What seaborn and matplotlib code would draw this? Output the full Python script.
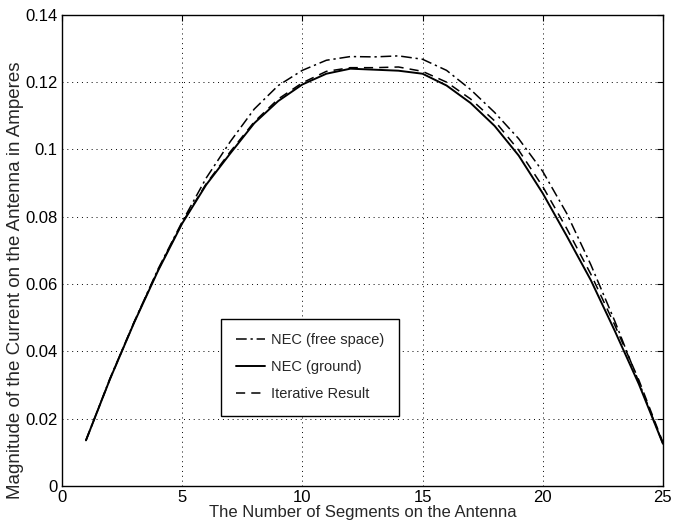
import numpy as np
import pandas as pd
import seaborn as sns
import matplotlib.pyplot as plt

# segment index along the antenna
segments = list(range(1, 26))

# current magnitude (A)
nec_free_space = [0.0136, 0.0320, 0.0487, 0.0645, 0.0785, 0.0915, 0.1023, 0.1120,
                  0.1190, 0.1235, 0.1265, 0.1276, 0.1275, 0.1278, 0.1268, 0.1235,
                  0.1178, 0.1110, 0.1032, 0.0935, 0.0810, 0.0658, 0.0490, 0.0309,
                  0.0126]
nec_ground = [0.0136, 0.0318, 0.0485, 0.0640, 0.0780, 0.0895, 0.0988, 0.1078,
              0.1144, 0.1193, 0.1225, 0.1240, 0.1237, 0.1234, 0.1225, 0.1190,
              0.1138, 0.1070, 0.0982, 0.0870, 0.0743, 0.0612, 0.0461, 0.0303,
              0.0126]
iterative = [0.0136, 0.0318, 0.0486, 0.0642, 0.0782, 0.0898, 0.0993, 0.1082,
             0.1150, 0.1198, 0.1232, 0.1243, 0.1243, 0.1245, 0.1232, 0.1200,
             0.1150, 0.1085, 0.0998, 0.0890, 0.0765, 0.0630, 0.0478, 0.0315,
             0.0130]

x_ticks = [0, 5, 10, 15, 20, 25]
y_ticks = [0, 0.02, 0.04, 0.06, 0.08, 0.1, 0.12, 0.14]
y_tick_labels = ['0', '0.02', '0.04', '0.06', '0.08', '0.1', '0.12', '0.14']

sns.set_style("white")
plt.rcParams['font.family'] = ['Liberation Sans', 'DejaVu Sans']

fig = plt.figure(figsize=(6.73, 5.29), dpi=100)
ax = fig.add_axes([0.092, 0.081, 0.893, 0.891])

sns.lineplot(x=segments, y=nec_free_space, ax=ax, color='black', linewidth=1.1,
             linestyle=(0, (7, 2.5, 1.5, 2.5)), label='NEC (free space)')
sns.lineplot(x=segments, y=nec_ground, ax=ax, color='black', linewidth=1.4,
             label='NEC (ground)')
sns.lineplot(x=segments, y=iterative, ax=ax, color='black', linewidth=1.1,
             linestyle=(0, (6, 4)), label='Iterative Result')

ax.set_xlim(0, 25)
ax.set_ylim(0, 0.14)
ax.set_xticks(x_ticks)
ax.set_yticks(y_ticks)
ax.set_yticklabels(y_tick_labels)
ax.grid(True, color='black', linestyle=(0, (1, 4)), linewidth=0.7)
ax.tick_params(direction='in', top=True, right=True, length=4, labelsize=12,
               colors='black', pad=3)
for s in ax.spines.values():
    s.set_color('black')
    s.set_linewidth(1.0)

ax.set_xlabel('The Number of Segments on the Antenna', fontsize=12, labelpad=0)
ax.set_ylabel('Magnitude of the Current on the Antenna in Amperes', fontsize=13.5)
ax.yaxis.set_label_coords(-0.063, 0.437)

leg = ax.legend(loc='lower left', bbox_to_anchor=(0.265, 0.149), fontsize=10.5,
                frameon=True, fancybox=False, edgecolor='black', framealpha=1,
                borderpad=1.0, labelspacing=0.9, handlelength=2.0,
                handletextpad=0.4, borderaxespad=0)
leg.get_frame().set_linewidth(1.0)

plt.savefig('out.png', dpi=100)
